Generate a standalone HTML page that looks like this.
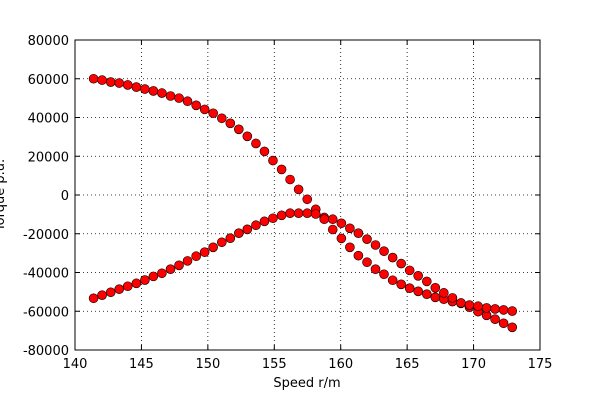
<!DOCTYPE html>
<html><head><meta charset="utf-8"><style>
body{margin:0;background:#fff;}
svg text{font-family:"DejaVu Sans","Liberation Sans",sans-serif;font-size:13px;fill:#000;}
</style></head><body>
<svg id="chart" width="600" height="400">
<rect width="600" height="400" fill="#fff"/>
<g id="grid"></g><g id="ticks"></g><g id="marks"></g>
<rect x="75" y="40" width="465" height="310" fill="none" stroke="#000" stroke-width="1"/>
<text x="307" y="387" text-anchor="middle">Speed r/m</text>
<text transform="translate(4,195) rotate(-90)" text-anchor="middle">Torque p.u.</text>
</svg>
<script>
const speeds=[141.40,142.04,142.69,143.33,143.97,144.62,145.26,145.90,146.54,147.19,147.83,148.47,149.12,149.76,150.40,151.05,151.69,152.33,152.97,153.62,154.26,154.90,155.55,156.19,156.83,157.48,158.12,158.76,159.40,160.05,160.69,161.33,161.98,162.62,163.26,163.91,164.55,165.19,165.83,166.48,167.12,167.76,168.41,169.05,169.69,170.34,170.98,171.62,172.26,172.91];
const torqueA=[60000,59300,58300,57800,56800,55700,54700,53700,52600,51100,50000,48400,46300,44200,42200,39600,37000,33900,30300,26600,22500,17800,13200,8000,2900,-2200,-7400,-11600,-17800,-22400,-27000,-31300,-34700,-38300,-40900,-44000,-46100,-48100,-49700,-51200,-52800,-53800,-55000,-55900,-57900,-60200,-62100,-64100,-66200,-68300];
const torqueB=[-53300,-51700,-50200,-48600,-47100,-45600,-43900,-42000,-40400,-38300,-36300,-34000,-31600,-29500,-27000,-24400,-22300,-19700,-17700,-15600,-13600,-12000,-10500,-9400,-9400,-9400,-9800,-12500,-12500,-14600,-17200,-19700,-22800,-25800,-29000,-32300,-35400,-38900,-41700,-44600,-47900,-50500,-53100,-55700,-56800,-57400,-58300,-58800,-59300,-59900];
const xTicks=[140,145,150,155,160,165,170,175];
const yTicks=[80000,60000,40000,20000,0,-20000,-40000,-60000,-80000];
const NS='http://www.w3.org/2000/svg';
const X=v=>75+(v-140)/35*465;
const Y=v=>195-v/80000*155;
function mk(tag,attrs,parent){const e=document.createElementNS(NS,tag);for(const k in attrs)e.setAttribute(k,attrs[k]);parent.appendChild(e);return e;}
const grid=document.getElementById('grid'),ticks=document.getElementById('ticks'),marks=document.getElementById('marks');
xTicks.forEach(t=>{const x=X(t);
 const g=mk('line',{x1:x,x2:x,y1:40,y2:350,stroke:'#000','stroke-dasharray':'1,3','stroke-width':0.8},grid);
 
 
 mk('line',{x1:x,x2:x,y1:350,y2:345,stroke:'#000'},ticks);
 mk('line',{x1:x,x2:x,y1:40,y2:45,stroke:'#000'},ticks);
 const l=mk('text',{x:x,y:368,'text-anchor':'middle'},ticks);l.textContent=t;
 
 
});
yTicks.forEach(t=>{const y=Y(t);
 const g=mk('line',{x1:75,x2:540,y1:y,y2:y,stroke:'#000','stroke-dasharray':'1,3','stroke-width':0.8},grid);
 
 
 mk('line',{x1:75,x2:80,y1:y,y2:y,stroke:'#000'},ticks);
 mk('line',{x1:535,x2:540,y1:y,y2:y,stroke:'#000'},ticks);
 const l=mk('text',{x:69,y:y+5,'text-anchor':'end'},ticks);l.textContent=t;
 
 
});
[torqueA,torqueB].forEach((s,si)=>s.forEach((v,i)=>{
 const c=mk('circle',{cx:X(speeds[i]),cy:Y(v),r:4.5,fill:'#ff0000',stroke:'#000','stroke-width':0.6},marks);
 
 
}));
</script>
</body></html>
